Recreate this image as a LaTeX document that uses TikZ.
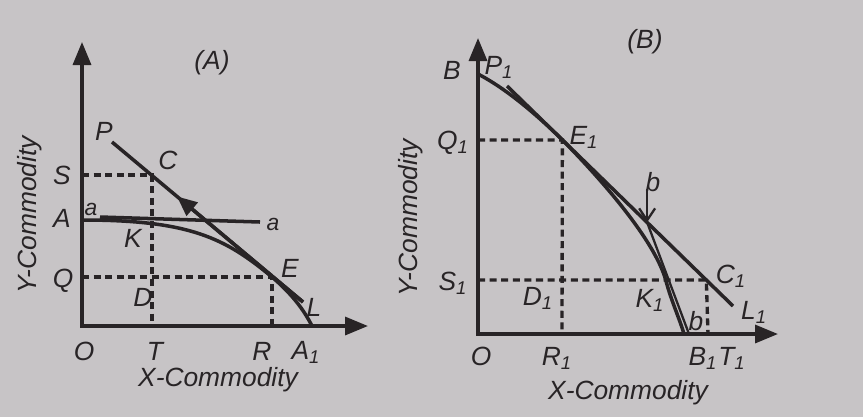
\documentclass[tikz,border=0pt]{standalone}
\usepackage{fontspec}
\setmainfont{Liberation Sans}
\usetikzlibrary{arrows.meta,calc}
\definecolor{paper}{RGB}{199,196,198}
\definecolor{ink}{RGB}{40,36,38}

\begin{document}
\begin{tikzpicture}[x=0.02cm, y=-0.02cm,
    axis/.style={draw=ink, line width=1.9pt, {Triangle[length=4.6mm, width=3.6mm]}-{Triangle[length=4.6mm, width=3.6mm]}},
    curve/.style={draw=ink, line width=2pt},
    thin/.style={draw=ink, line width=1.3pt},
    guide/.style={draw=ink, line width=1.9pt, dash pattern=on 4pt off 2.6pt},
    lbl/.style={text=ink, font=\fontsize{15}{17}\selectfont\itshape, inner sep=0pt},
    small/.style={text=ink, font=\fontsize{13}{15}\selectfont\itshape, inner sep=0pt}
  ]
    \fill[paper] (0,0) rectangle (863,417);
    \useasboundingbox (0,0) rectangle (863,417);

    % (A)
    \coordinate (oA) at (82,326);
    \coordinate (yA) at (82,42);
    \coordinate (xA) at (368,326);
    \coordinate (sA) at (82,175);
    \coordinate (cA) at (152,175);
    \coordinate (tA) at (152,326);
    \coordinate (qA) at (82,277);
    \coordinate (eA) at (272,277);
    \coordinate (rA) at (272,326);
    \coordinate (aA) at (82,220);
    \coordinate (a1A) at (312,326);
    \coordinate (pA) at (112,142);
    \coordinate (lA) at (303,302);
    \coordinate (aL) at (100,217);
    \coordinate (aR) at (260,222);

    \draw[guide] (sA) -- (cA) -- (tA);
    \draw[guide] (qA) -- (eA) -- (rA);
    \draw[axis] (yA) -- (oA) -- (xA);
    \draw[curve] (aA) .. controls (190,220) and (225,238) .. (eA)
      .. controls (292,294) and (304,310) .. (a1A);
    \draw[curve] (pA) -- (lA);
    \draw[curve, -{Triangle[length=4mm, width=3.4mm]}] (lA) -- ($(lA)!0.66!(pA)$);
    \draw[curve] (aL) -- (aR);

    \node[lbl] (titleA) at (212,63) {(A)};
    \node[lbl] (labP) at (104,131) {P};
    \node[lbl] (labC) at (168,160) {C};
    \node[lbl] (labS) at (62,175) {S};
    \node[lbl] (labA) at (62,218) {A};
    \node[small] (laba) at (91,209) {a};
    \node[small] (labaR) at (273,224) {a};
    \node[lbl] (labK) at (133,238) {K};
    \node[lbl] (labQ) at (63,281) {Q};
    \node[lbl] (labD) at (143,297) {D};
    \node[lbl] (labE) at (290,268) {E};
    \node[lbl] (labL) at (314,307) {L};
    \node[lbl] (labO) at (84,351) {O};
    \node[lbl] (labT) at (155,351) {T};
    \node[lbl] (labR) at (262,351) {R};
    \node[lbl] (labA1) at (306,352) {A\textsubscript{1}};
    \node[lbl] (xlabA) at (218,380) {X-Commodity};
    \node[lbl, rotate=90] (ylabA) at (30,215) {Y-Commodity};

    % (B)
    \coordinate (oB) at (478,334);
    \coordinate (yB) at (478,38);
    \coordinate (xB) at (778,334);
    \coordinate (bB) at (478,74);
    \coordinate (b1B) at (684,334);
    \coordinate (pB) at (507,86);
    \coordinate (lB) at (733,306);
    \coordinate (e1B) at ($(pB)!0.245!(lB)$);
    \coordinate (c1B) at ($(pB)!0.882!(lB)$);
    \coordinate (k1B) at (666,281);
    \coordinate (q1B) at (478,140);
    \coordinate (r1B) at (562,334);
    \coordinate (s1B) at (478,280);
    \coordinate (t1B) at (708,334);
    \coordinate (bTop) at ($(pB)!0.62!(lB)$);
    \coordinate (bStart) at ($(bTop)+(0,-33)$);
    \coordinate (bEnd) at (689,334);

    \draw[guide] (q1B) -- (e1B |- q1B) -- (r1B);
    \draw[guide] (s1B) -- (c1B |- s1B) -- (t1B);
    \draw[axis] (yB) -- (oB) -- (xB);
    \draw[curve] (bB) .. controls (505,88) and (535,113) .. (e1B)
      .. controls (600,178) and (655,240) .. (k1B)
      .. controls (671,300) and (680,320) .. (b1B);
    \draw[curve] (pB) -- (lB);
    \draw[thin] (bTop) -- (bEnd);
    \draw[thin, -{Straight Barb[length=2.4mm, width=3.2mm]}] (bStart) -- (bTop);

    \node[lbl] (titleB) at (645,42) {(B)};
    \node[lbl] (labB) at (452,70) {B};
    \node[lbl] (labP1) at (499,67) {P\textsubscript{1}};
    \node[lbl] (labQ1) at (453,143) {Q\textsubscript{1}};
    \node[lbl] (labE1) at (584,137) {E\textsubscript{1}};
    \node[lbl] (labb) at (653,182) {b};
    \node[lbl] (labC1) at (731,276) {C\textsubscript{1}};
    \node[lbl] (labL1) at (754,312) {L\textsubscript{1}};
    \node[lbl] (labS1) at (453,283) {S\textsubscript{1}};
    \node[lbl] (labD1) at (538,298) {D\textsubscript{1}};
    \node[lbl] (labK1) at (650,300) {K\textsubscript{1}};
    \node[lbl] (labb2) at (696,321) {b};
    \node[lbl] (labOB) at (481,356) {O};
    \node[lbl] (labR1) at (557,358) {R\textsubscript{1}};
    \node[lbl] (labB1) at (703,358) {B\textsubscript{1}};
    \node[lbl] (labT1) at (732,358) {T\textsubscript{1}};
    \node[lbl] (xlabB) at (628,393) {X-Commodity};
    \node[lbl, rotate=90] (ylabB) at (411,218) {Y-Commodity};
\end{tikzpicture}
\end{document}
